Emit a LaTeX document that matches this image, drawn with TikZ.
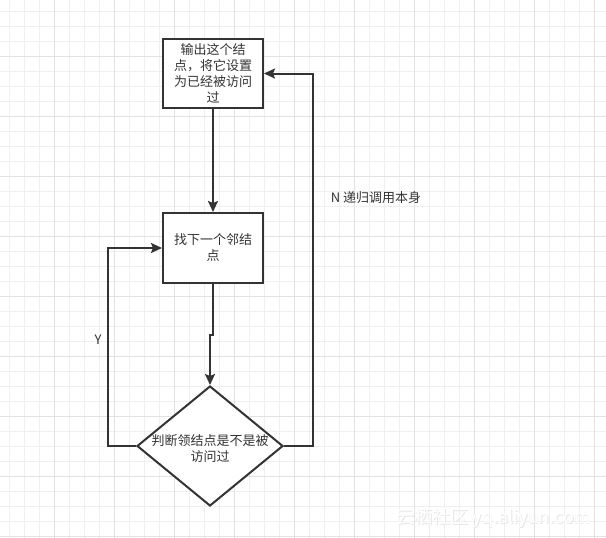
\documentclass[tikz,border=0pt]{standalone}
\usepackage{fontspec}
\setmainfont{Noto Sans CJK SC}
\usetikzlibrary{shapes.geometric,arrows.meta}
\definecolor{ink}{HTML}{333333}
\definecolor{gridminor}{HTML}{EFEFEF}
\definecolor{gridmajor}{HTML}{E2E2E2}
\definecolor{wmshadow}{HTML}{E6E6E6}
\tikzset{
  flowbox/.style={draw=ink, line width=2pt, fill=white, rectangle, minimum width=100pt, minimum height=69pt, inner sep=0pt, align=center, text=ink, font=\fontsize{13}{16}\selectfont},
  decision/.style={draw=ink, line width=2pt, fill=white, diamond, minimum width=146pt, minimum height=120pt, inner sep=0pt},
  lbl/.style={text=ink, font=\fontsize{13}{16}\selectfont, align=center, inner sep=0pt},
  conn/.style={draw=ink, line width=2pt, -{Stealth[length=11pt,width=10pt,inset=2pt]}},
  plainconn/.style={draw=ink, line width=2pt},
}
\begin{document}
\begin{tikzpicture}[x=1pt,y=-1pt]
\useasboundingbox (0,0) rectangle (606,538);
\fill[white] (0,0) rectangle (606,538);
% grid
\foreach \i in {0,...,39} {
  \pgfmathsetmacro{\gx}{9+15*\i}
  \draw[gridminor, line width=1pt] (\gx,0) -- (\gx,538);
}
\foreach \i in {0,...,35} {
  \pgfmathsetmacro{\gy}{11+15*\i}
  \draw[gridminor, line width=1pt] (0,\gy) -- (606,\gy);
}
\foreach \i in {0,...,9} {
  \pgfmathsetmacro{\gx}{54+60*\i}
  \draw[gridmajor, line width=1pt] (\gx,0) -- (\gx,538);
}
\foreach \i in {0,...,8} {
  \pgfmathsetmacro{\gy}{56+60*\i}
  \draw[gridmajor, line width=1pt] (0,\gy) -- (606,\gy);
}
% nodes
\node[flowbox] (box1) at (213,73.5) {输出这个结\\点，将它设置\\为已经被访问\\过};
\node[flowbox, minimum height=70pt] (box2) at (213,248) {找下一个邻结\\点};
\node[decision] (dia) at (210,446) {};
\node[lbl] (diatext) at (210,449) {判断领结点是不是被\\访问过};
% helper points
\coordinate (j1) at (213,335);
\coordinate (j2) at (210,335);
\coordinate (lp) at (108,248);
\coordinate (rp) at (313,73.5);
% connectors
\draw[conn] (box1.south) -- (box2.north);
\draw[conn] (box2.south) -- (j1) -- (j2) -- (dia.north);
\draw[conn] (dia.west) -| (lp) -- (box2.west);
\draw[conn] (dia.east) -| (rp) -- (box1.east);
% labels
\node[lbl] (ylab) at (98,340) {Y};
\node[lbl] (nlab) at (376,198) {N 递归调用本身};
% watermark
\node[text=wmshadow, font=\fontsize{18}{20}\selectfont, inner sep=0pt] (wm2) at (494.6,518.6) {云栖社区 yq.aliyun.com};
\node[text=white, font=\fontsize{18}{20}\selectfont, inner sep=0pt] (wm) at (494,518) {云栖社区 yq.aliyun.com};
\end{tikzpicture}
\end{document}
